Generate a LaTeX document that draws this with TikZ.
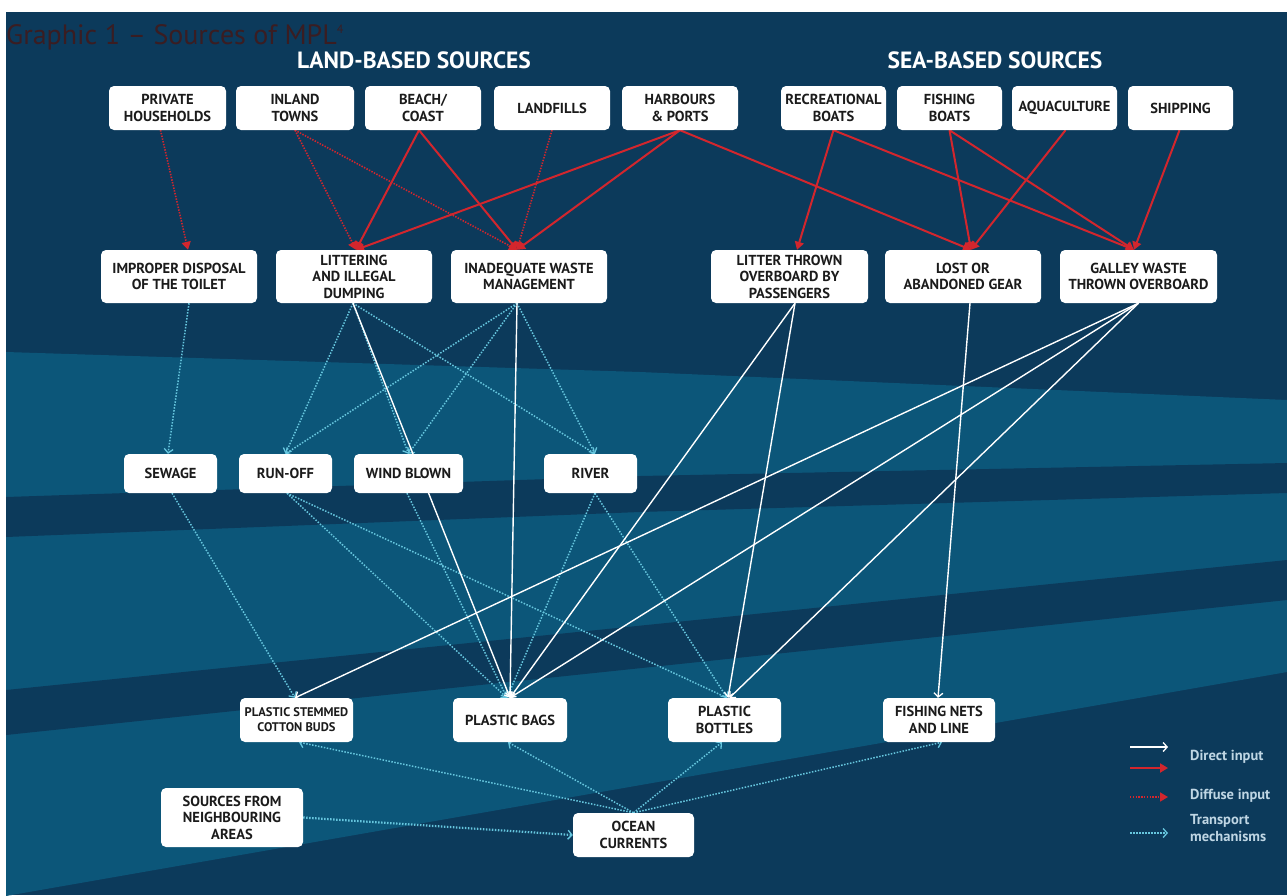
\documentclass[tikz,border=0pt]{standalone}
\usepackage{fontspec}
\setmainfont{PT Sans}
\newfontfamily\boxfam{PT Sans}[Ligatures=TeX]
\newfontfamily\titlefam{PT Sans}[Ligatures=TeX]
\usetikzlibrary{arrows.meta,calc}
\definecolor{bgdark}{HTML}{0C3A5B}
\definecolor{bglight}{HTML}{0C5679}
\definecolor{redc}{HTML}{D3262D}
\definecolor{cyanc}{HTML}{66C6DE}
\definecolor{titlec}{HTML}{3A1D22}
\definecolor{legc}{HTML}{BFD6E4}
\definecolor{boxtext}{HTML}{1B1B1B}
\pgfdeclarelayer{bands}
\pgfdeclarelayer{links}
\pgfsetlayers{bands,links,main}
\begin{document}
\begin{tikzpicture}[x=1pt,y=-1pt,
  box/.style={fill=white,rounded corners=5pt,text=boxtext,align=center,inner sep=0pt,
    font=\boxfam\bfseries\fontsize{14.5}{16.5}\selectfont},
  sz/.style 2 args={minimum width=#1pt,minimum height=#2pt},
  direct/.style={draw=white,line width=1.4pt,-{Straight Barb[length=4pt,width=9pt,line width=1.3pt]}},
  redd/.style={draw=redc,line width=2pt,-{Triangle[length=8pt,width=9pt]}},
  diffuse/.style={draw=redc,line width=1.6pt,dash pattern=on 1.4pt off 1.4pt,-{Triangle[length=8pt,width=9pt]}},
  trans/.style={draw=cyanc,line width=1.5pt,dash pattern=on 1.5pt off 1.5pt,-{Straight Barb[length=4pt,width=9pt,line width=1.3pt]}},
  head/.style={text=white,font=\boxfam\bfseries\fontsize{23.5}{26}\selectfont,inner sep=0pt},
  legtext/.style={text=legc,font=\boxfam\bfseries\fontsize{14.5}{17}\selectfont,inner sep=0pt,align=left}
]
\useasboundingbox (0,0) rectangle (1287,895);
\begin{pgfonlayer}{bands}
\fill[white] (0,0) rectangle (1287,895);
\fill[bgdark] (6,12) rectangle (1287,895);
\fill[bglight] (6,352) -- (640,372) -- (1287,400) -- (1287,672) -- (6,896) -- cycle;
\fill[bgdark] (6,497) -- (640,476) -- (1287,463) -- (1287,493) -- (640,512) -- (6,537) -- cycle;
\fill[bgdark] (6,690) -- (1287,560) -- (1287,600) -- (6,735) -- cycle;
\end{pgfonlayer}

% title and headers
\node[anchor=base west,inner sep=0pt,text=titlec,font=\titlefam\fontsize{28}{30}\selectfont] (title) at (6,44) {Graphic 1 – Sources of MPL\raisebox{0.75ex}{\fontsize{12}{12}\selectfont 4}};
\node[head,anchor=base] (land) at (414,68) {LAND-BASED SOURCES};
\node[head,anchor=base] (sea) at (995,68) {SEA-BASED SOURCES};

% top row
\node[box,sz={117}{44}] (ph) at (167.5,108) {PRIVATE\\HOUSEHOLDS};
\node[box,sz={118}{44}] (it) at (295,108) {INLAND\\TOWNS};
\node[box,sz={116}{44}] (bc) at (423,108) {BEACH/\\COAST};
\node[box,sz={116}{44}] (lf) at (552,108) {LANDFILLS};
\node[box,sz={116}{44}] (hp) at (680,108) {HARBOURS\\\& PORTS};
\node[box,sz={105}{44}] (rb) at (833.5,108) {RECREATIONAL\\BOATS};
\node[box,sz={105}{44}] (fb) at (949.5,108) {FISHING\\BOATS};
\node[box,sz={105}{44}] (aq) at (1064.5,108) {AQUACULTURE};
\node[box,sz={105}{44}] (sh) at (1180.5,108) {SHIPPING};

% middle row
\node[box,sz={156}{53}] (id) at (179,276.5) {IMPROPER DISPOSAL\\OF THE TOILET};
\node[box,sz={156}{53}] (li) at (354,276.5) {LITTERING\\AND ILLEGAL\\DUMPING};
\node[box,sz={156}{53}] (iw) at (529,276.5) {INADEQUATE WASTE\\MANAGEMENT};
\node[box,sz={157}{53}] (lt) at (789.5,276.5) {LITTER THROWN\\OVERBOARD BY\\PASSENGERS};
\node[box,sz={156}{53}] (lg) at (963,276.5) {LOST OR\\ABANDONED GEAR};
\node[box,sz={157}{53}] (gw) at (1138.5,276.5) {GALLEY WASTE\\THROWN OVERBOARD};

% third row
\node[box,sz={93}{39}] (sw) at (170.5,473.5) {SEWAGE};
\node[box,sz={93}{39}] (ro) at (285.5,473.5) {RUN-OFF};
\node[box,sz={109}{39}] (wb) at (408.5,473.5) {WIND BLOWN};
\node[box,sz={93}{39}] (rv) at (590.5,473.5) {RIVER};

% fourth row
\node[box,sz={113}{44},font=\boxfam\bfseries\fontsize{12.5}{15}\selectfont] (cb) at (296.5,720) {PLASTIC STEMMED\\COTTON BUDS};
\node[box,sz={114}{44}] (pb) at (510,720) {PLASTIC BAGS};
\node[box,sz={113}{44}] (bt) at (724.5,720) {PLASTIC\\BOTTLES};
\node[box,sz={112}{44}] (fn) at (939,720) {FISHING NETS\\AND LINE};

% bottom
\node[box,sz={121}{44}] (oc) at (633.5,835) {OCEAN\\CURRENTS};
\node[box,sz={142}{59}] (nb) at (232,817.5) {SOURCES FROM\\NEIGHBOURING\\AREAS};

% legend
\node[legtext,anchor=west] (l1) at (1190,757) {Direct input};
\node[legtext,anchor=west] (l2) at (1190,796) {Diffuse input};
\node[legtext,anchor=west] (l3) at (1190,828) {Transport\\mechanisms};

\begin{pgfonlayer}{links}
% diffuse input
\draw[diffuse] ([xshift=-7pt]ph.south) -- ([xshift=9pt]id.north);
\draw[diffuse] (it.south) -- ([xshift=2pt]li.north);
\draw[diffuse] (it.south) -- ([xshift=-12pt]iw.north);
\draw[diffuse] (lf.south) -- ([xshift=-12pt]iw.north);
% direct red
\draw[redd] ([xshift=-4pt]bc.south) -- ([xshift=2pt]li.north);
\draw[redd] ([xshift=-4pt]bc.south) -- ([xshift=-12pt]iw.north);
\draw[redd] (hp.south) -- ([xshift=2pt]li.north);
\draw[redd] (hp.south) -- ([xshift=-12pt]iw.north);
\draw[redd] (hp.south) -- ([xshift=8pt]lg.north);
\draw[redd] (rb.south) -- ([xshift=7.5pt]lt.north);
\draw[redd] (rb.south) -- ([xshift=-4.5pt]gw.north);
\draw[redd] (fb.south) -- ([xshift=8pt]lg.north);
\draw[redd] (fb.south) -- ([xshift=-4.5pt]gw.north);
\draw[redd] ([xshift=1pt]aq.south) -- ([xshift=8pt]lg.north);
\draw[redd] ([xshift=-1pt]sh.south) -- ([xshift=-4.5pt]gw.north);
% transport, middle to third row
\draw[trans] ([xshift=10pt]id.south) -- ([xshift=-2.5pt]sw.north);
\draw[trans] ([xshift=-1pt]li.south) -- (ro.north);
\draw[trans] ([xshift=-1pt]li.south) -- (wb.north);
\draw[trans] ([xshift=-1pt]li.south) -- ([xshift=4.5pt]rv.north);
\draw[trans] ([xshift=-12pt]iw.south) -- (ro.north);
\draw[trans] ([xshift=-12pt]iw.south) -- (wb.north);
\draw[trans] ([xshift=-12pt]iw.south) -- ([xshift=4.5pt]rv.north);
% transport, third to fourth row
\draw[trans] ([xshift=1.5pt]sw.south) -- ([xshift=-1.5pt]cb.north);
\draw[trans] ([xshift=1.5pt]ro.south) -- ([xshift=-3pt]pb.north);
\draw[trans] ([xshift=1.5pt]ro.south) -- ([xshift=2.5pt]bt.north);
\draw[trans] ([xshift=-1.5pt]wb.south) -- ([xshift=-3pt]pb.north);
\draw[trans] ([xshift=4.5pt]rv.south) -- ([xshift=-3pt]pb.north);
\draw[trans] ([xshift=4.5pt]rv.south) -- ([xshift=2.5pt]bt.north);
% direct white
\draw[direct] ([xshift=-1pt]li.south) -- (pb.north);
\draw[direct] ([xshift=-12pt]iw.south) -- (pb.north);
\draw[direct] ([xshift=5.5pt]lt.south) -- (pb.north);
\draw[direct] ([xshift=5.5pt]lt.south) -- ([xshift=3.5pt]bt.north);
\draw[direct] ([xshift=7pt]lg.south) -- ([xshift=-1pt]fn.north);
\draw[direct] (gw.south) -- ([xshift=-1.5pt]cb.north);
\draw[direct] (gw.south) -- (pb.north);
\draw[direct] (gw.south) -- ([xshift=5pt]bt.north);
% ocean currents
\draw[trans] (oc.north) -- ([xshift=2.5pt]cb.south);
\draw[trans] (oc.north) -- ([xshift=-2pt]pb.south);
\draw[trans] (oc.north) -- ([xshift=-2.5pt]bt.south);
\draw[trans] (oc.north) -- ([xshift=3pt]fn.south);
\draw[trans,line width=2.2pt] (nb.east) -- (oc.west);
% legend arrows
\draw[direct] (1130,747) -- (1168,747);
\draw[redd] (1130,768) -- (1168,768);
\draw[diffuse] (1130,797) -- (1168,797);
\draw[trans] (1130,833) -- (1168,833);
\end{pgfonlayer}
\end{tikzpicture}
\end{document}
